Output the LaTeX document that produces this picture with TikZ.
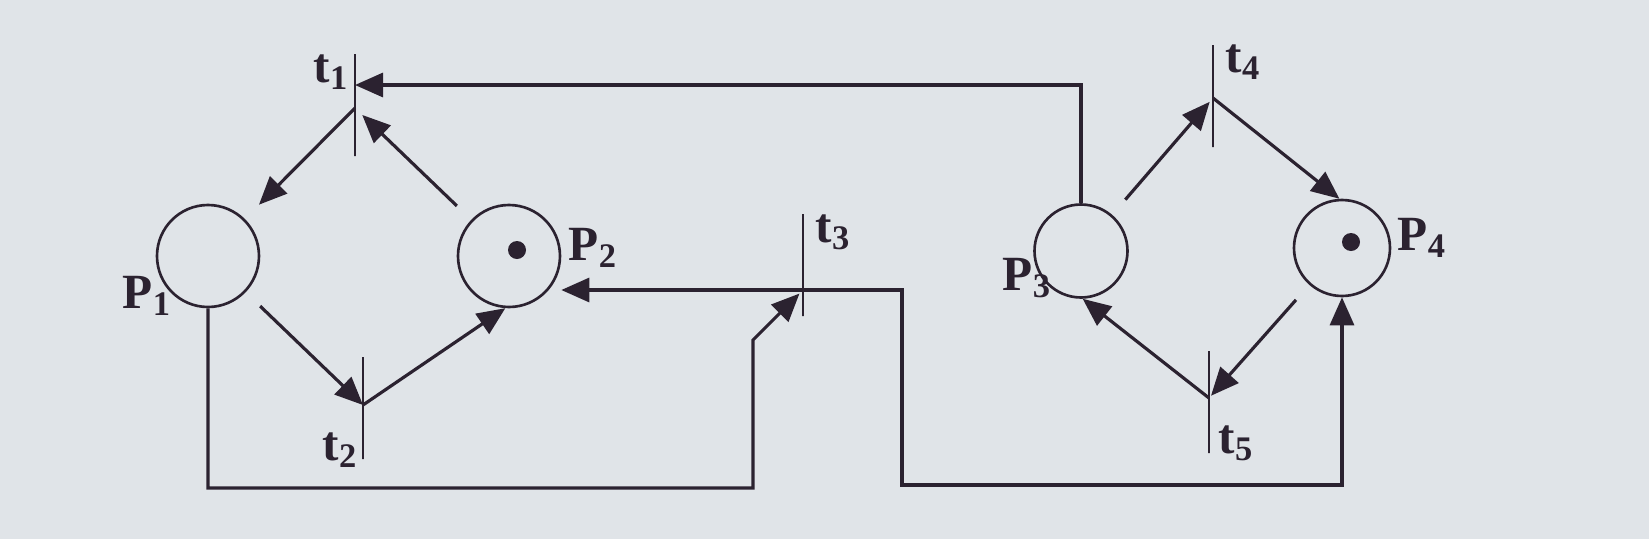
\documentclass[tikz,border=0pt]{standalone}
\usepackage{fontspec}
\setmainfont{Liberation Serif}
\usetikzlibrary{arrows.meta,calc}
\definecolor{ink}{HTML}{2B2230}
\definecolor{paper}{HTML}{E0E4E8}
\begin{document}
\begin{tikzpicture}[x=0.1mm,y=-0.1mm,
  place/.style={circle, draw=ink, line width=0.75pt, minimum size=10.2mm, inner sep=0pt},
  tbar/.style={draw=ink, line width=0.75pt, rectangle, minimum width=0pt, minimum height=10.2mm, inner sep=0pt},
  arc/.style={draw=ink, line width=0.9pt, -{Triangle[length=2.8mm,width=2.4mm]}},
  token/.style={circle, fill=ink, minimum size=1.8mm, inner sep=0pt},
  lbl/.style={text=ink, font=\fontsize{14}{16}\selectfont\bfseries, inner sep=0pt, anchor=base west}]
\useasboundingbox (0,0) rectangle (1649,539);
\fill[paper] (0,0) rectangle (1649,539);

% places
\node[place] (P1) at (208,256) {};
\node[place] (P2) at (509,256) {};
\node[place, minimum size=9.3mm] (P3) at (1081,251) {};
\node[place, minimum size=9.6mm] (P4) at (1342,248) {};
\node[token] (k2) at (517,250) {};
\node[token] (k4) at (1351,242) {};

% transitions
\node[tbar] (t1) at (355,105) {};
\node[tbar] (t2) at (363,408) {};
\node[tbar] (t3) at (803,265) {};
\node[tbar] (t4) at (1213,96) {};
\node[tbar] (t5) at (1209,402) {};

% junction points on the bars
\coordinate (j1) at (355,108);
\coordinate (j1top) at (355,85);
\coordinate (j2) at (363,405);
\coordinate (j3) at (803,290);
\coordinate (j4) at (1213,98);
\coordinate (j5) at (1209,398);
\coordinate (b1) at (753,488);
\coordinate (b2) at (753,340);
\coordinate (b3) at (902,485);

% labels
\node[lbl] (lt1) at (313,82) {t\textsubscript{1}};
\node[lbl] (lt2) at (322,460) {t\textsubscript{2}};
\node[lbl] (lt3) at (815,242) {t\textsubscript{3}};
\node[lbl] (lt4) at (1225,72) {t\textsubscript{4}};
\node[lbl] (lt5) at (1218,453) {t\textsubscript{5}};
\node[lbl] (lP1) at (122,308) {P\textsubscript{1}};
\node[lbl] (lP2) at (568,260) {P\textsubscript{2}};
\node[lbl] (lP3) at (1002,290) {P\textsubscript{3}};
\node[lbl] (lP4) at (1397,250) {P\textsubscript{4}};

% arcs, left net
\draw[arc, shorten >=2mm] (j1) -- (P1);
\draw[arc, shorten <=2mm, shorten >=1mm] (P2) -- (j1);
\draw[arc, shorten <=2mm] (P1) -- (j2);
\draw[arc] (j2) -- (P2.-94);
\draw[arc] (j3) -- (P2.east |- j3);
\draw[arc, shorten >=0.5mm] (P1.south) |- (b1) -- (b2) -- (j3);
\draw[arc] (j3) -| (b3) -| (P4.south);
\draw[arc] (P3.north) |- (j1top);

% arcs, right net
\draw[arc, shorten <=2mm, shorten >=0.5mm] (P3) -- (j4);
\draw[arc] (j4) -- (P4.93);
\draw[arc, shorten <=2mm, shorten >=0.3mm] (P4) -- (j5);
\draw[arc] (j5) -- (P3.-88);
\end{tikzpicture}
\end{document}
